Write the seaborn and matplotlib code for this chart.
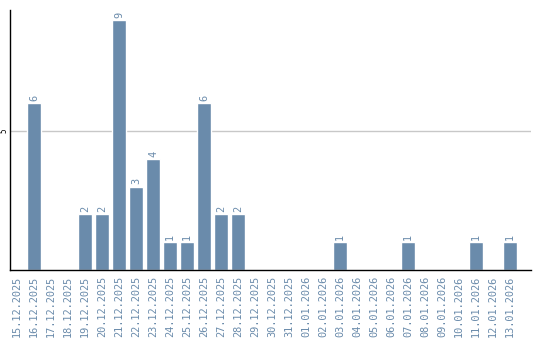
import matplotlib
matplotlib.use("Agg")
import matplotlib.pyplot as plt
import seaborn as sns
import pandas as pd

dates = ["15.12.2025", "16.12.2025", "17.12.2025", "18.12.2025", "19.12.2025",
         "20.12.2025", "21.12.2025", "22.12.2025", "23.12.2025", "24.12.2025",
         "25.12.2025", "26.12.2025", "27.12.2025", "28.12.2025", "29.12.2025",
         "30.12.2025", "31.12.2025", "01.01.2026", "02.01.2026", "03.01.2026",
         "04.01.2026", "05.01.2026", "06.01.2026", "07.01.2026", "08.01.2026",
         "09.01.2026", "10.01.2026", "11.01.2026", "12.01.2026", "13.01.2026"]
counts = [0, 6, 0, 0, 2, 2, 9, 3, 4, 1, 1, 6, 2, 2, 0,
          0, 0, 0, 0, 1, 0, 0, 0, 1, 0, 0, 0, 1, 0, 1]

df = pd.DataFrame({"date": dates, "count": counts})

sns.set_style("white")
BLUE = "#6a8bab"

fig = plt.figure(figsize=(5.4, 3.4), dpi=100)
ax = fig.add_axes([10/540, 1 - 270/340, 521/540, 260/340])

sns.barplot(data=df, x="date", y="count", order=dates, color=BLUE,
            saturation=1, width=0.82, ax=ax, zorder=2)

ax.set_xlim(-0.41, 30.24)
ax.set_ylim(0, 9.35)
ax.set_yticks([5])
ax.set_yticklabels(["5"], rotation=90, va="center", ha="right", fontsize=5.5,
                   color="black", family="DejaVu Sans Mono")
ax.yaxis.grid(True, color="#c8c8c8", linewidth=1, zorder=0)
ax.set_axisbelow(True)
ax.tick_params(axis="y", length=0, pad=1)
ax.tick_params(axis="x", length=0, pad=4)
ax.set_xticks(range(len(dates)))
ax.set_xticklabels(dates, rotation=90, fontsize=7.4, color=BLUE,
                   family="DejaVu Sans Mono", va="top")
ax.set_xlabel("")
ax.set_ylabel("")

for s in ["top", "right"]:
    ax.spines[s].set_visible(False)
for s in ["left", "bottom"]:
    ax.spines[s].set_color("black")
    ax.spines[s].set_linewidth(1)

for i, v in enumerate(counts):
    if v > 0:
        ax.text(i, v + 0.08, str(v), rotation=90, ha="center", va="bottom",
                fontsize=7.4, color=BLUE, family="DejaVu Sans Mono")

fig.savefig("out.png", dpi=100)
